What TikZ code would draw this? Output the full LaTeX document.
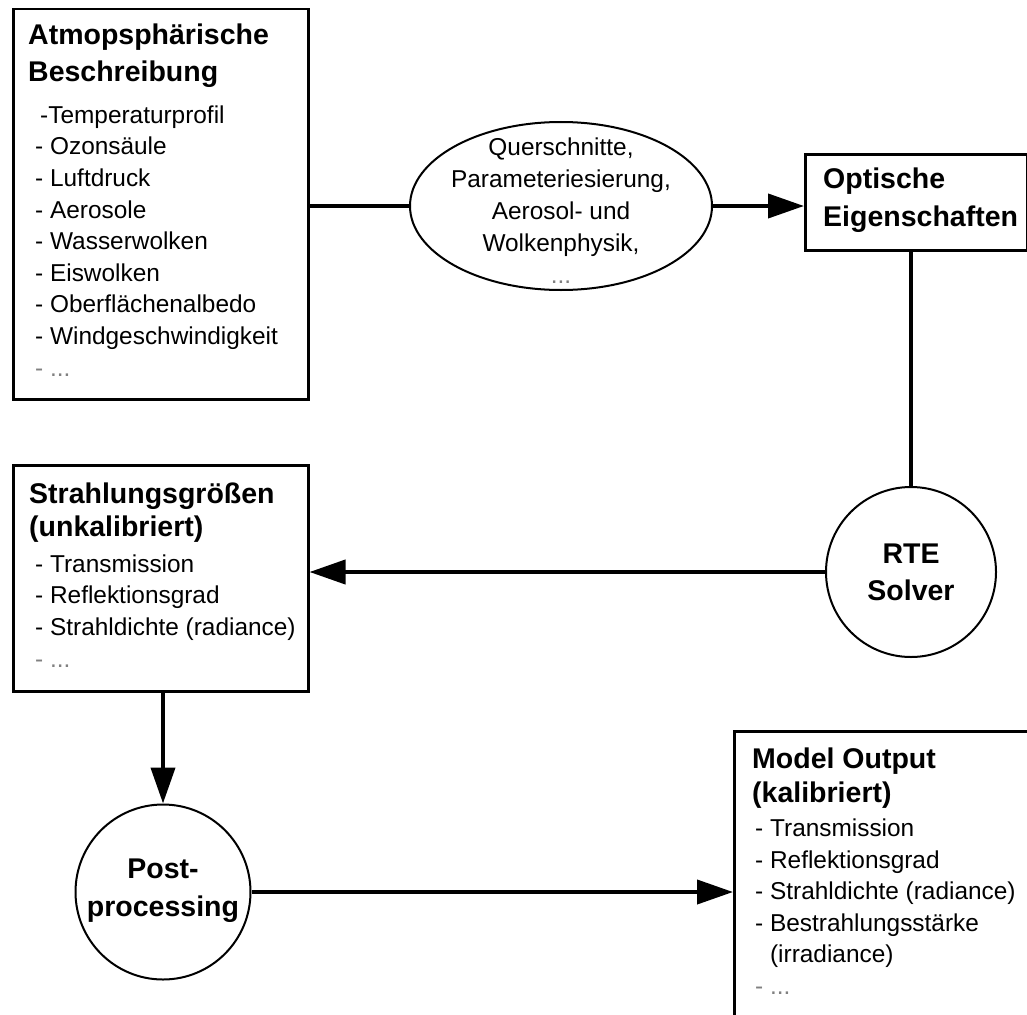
\documentclass[tikz,border=0pt]{standalone}
\usepackage{fontspec}
\setmainfont{Liberation Sans}
\usetikzlibrary{arrows.meta,shapes.geometric}
\begin{document}
\begin{tikzpicture}[x=1pt,y=-1pt,
  frame/.style={draw, line width=2.5pt, rectangle, inner sep=0pt},
  outline/.style={draw, line width=2pt, inner sep=0pt},
  link/.style={line width=4pt},
  flow/.style={link, -{Triangle[length=36pt,width=24pt]}},
  head/.style={font=\bfseries\fontsize{28.5}{37}\selectfont, align=left, anchor=base west, inner sep=0pt},
  items/.style={font=\fontsize{24.4}{31.6}\selectfont, align=left, anchor=base west, inner sep=0pt},
  centred/.style={align=center, anchor=base, inner sep=0pt}
]
\useasboundingbox[fill=white] (0,0) rectangle (1027,1014);

% boxes and shapes
\node[frame, anchor=north west, minimum width=295pt, minimum height=390pt] (atmo) at (12,8) {};
\node[frame, anchor=north west, minimum width=222pt, minimum height=96pt] (optik) at (804,153) {};
\node[frame, anchor=north west, minimum width=295pt, minimum height=226pt] (rad) at (12,464) {};
\node[frame, anchor=north west, minimum width=320pt, minimum height=320pt] (model) at (733,730) {};
\node[outline, ellipse, minimum width=302pt, minimum height=168pt] (param) at (561,206) {};
\node[outline, circle, minimum size=170pt] (rte) at (911,572) {};
\node[outline, circle, minimum size=175pt] (post) at (163,892) {};

% texts (multi-line nodes are anchored at the baseline of their last line)
\node[head] (atmoT) at (28,82) {Atmopsphärische\\Beschreibung};
\node[items] (atmoL) at (35,376) {\hspace*{5pt}-Temperaturprofil\\- Ozonsäule\\- Luftdruck\\- Aerosole\\- Wasserwolken\\- Eiswolken\\- Oberflächenalbedo\\- Windgeschwindigkeit\\{\color{black!50}- ...}};

\node[head, font=\bfseries\fontsize{28.5}{38}\selectfont] (optikT) at (823,226) {Optische\\Eigenschaften};

\node[head, font=\bfseries\fontsize{28.5}{33}\selectfont] (radT) at (29,536) {Strahlungsgrößen\\(unkalibriert)};
\node[items] (radL) at (35,667) {- Transmission\\- Reflektionsgrad\\- Strahldichte (radiance)\\{\color{black!50}- ...}};

\node[head, font=\bfseries\fontsize{28.5}{34}\selectfont] (modelT) at (752,802) {Model Output\\(kalibriert)};
\node[items, font=\fontsize{24.4}{31.5}\selectfont] (modelL) at (755,994) {- Transmission\\- Reflektionsgrad\\- Strahldichte (radiance)\\- Bestrahlungsstärke\\\phantom{- }(irradiance)\\{\color{black!50}- ...}};

\node[centred, font=\fontsize{24.4}{32}\selectfont] (paramT) at (561,283) {Querschnitte,\\Parameteriesierung,\\Aerosol- und\\Wolkenphysik,\\{\color{black!50}...}};
\node[centred, font=\bfseries\fontsize{28.5}{37}\selectfont] (rteT) at (911,600) {RTE\\Solver};
\node[centred, font=\bfseries\fontsize{28.5}{38}\selectfont] (postT) at (163,916) {Post-\\processing};

% connectors
\draw[link] (param.west) -- (param.west -| atmo.east);
\draw[flow] (param.east) -- (param.east -| optik.west);
\draw[link] (rte.north |- optik.south) -- (rte.north);
\draw[flow] (rte.west) -- (rte.west -| rad.east);
\draw[flow] (post.north |- rad.south) -- (post.north);
\draw[flow] (post.east) -- (post.east -| model.west);
\end{tikzpicture}
\end{document}
